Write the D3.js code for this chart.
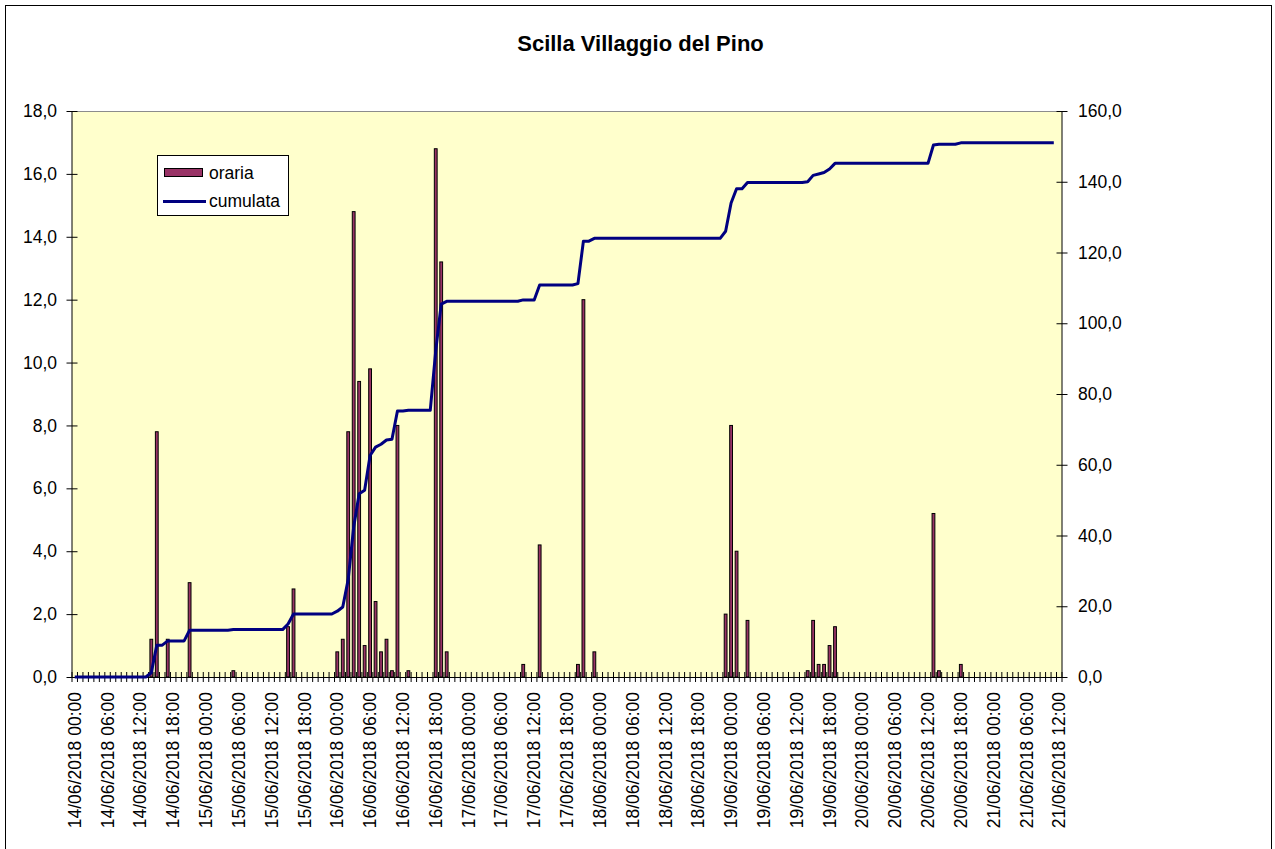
<!DOCTYPE html>
<html>
<head>
<meta charset="utf-8">
<script src="https://cdn.jsdelivr.net/npm/d3@7"></script>
<style>
  body { margin: 0; background: #fff; }
  svg { display: block; font-family: "Liberation Sans", Arial, sans-serif; }
</style>
</head>
<body>
<div id="container"></div>
<script>
const width = 1275;
const height = 849;

// hourly rainfall (mm), one row per day, from 14/06/2018 00:00
const oraria = [
	0,0,0,0,0,0,0,0,0,0,0,0,0,0,1.2,7.8,0,1.2,0,0,0,3.0,0,0,            // 14/06
	0,0,0,0,0,0.2,0,0,0,0,0,0,0,0,0,1.6,2.8,0,0,0,0,0,0,0,              // 15/06
	0.8,1.2,7.8,14.8,9.4,1.0,9.8,2.4,0.8,1.2,0.2,8.0,0,0.2,0,0,0,0,16.8,13.2,0.8,0,0,0, // 16/06
	0,0,0,0,0,0,0,0,0,0,0.4,0,0,4.2,0,0,0,0,0,0,0.4,12.0,0,0.8,         // 17/06
	0,0,0,0,0,0,0,0,0,0,0,0,0,0,0,0,0,0,0,0,0,0,0,2.0,                  // 18/06
	8.0,4.0,0,1.8,0,0,0,0,0,0,0,0,0,0,0.2,1.8,0.4,0.4,1.0,1.6,0,0,0,0,  // 19/06
	0,0,0,0,0,0,0,0,0,0,0,0,0,5.2,0.2,0,0,0,0.4,0,0,0,0,0,              // 20/06
	0,0,0,0,0,0,0,0,0,0,0,0                                             // 21/06
];
// running total of the hourly values
const cumulata = d3.cumsum(oraria);

// category labels, one per hour (181 slots, the last one empty)
const days = ["14/06/2018","15/06/2018","16/06/2018","17/06/2018","18/06/2018","19/06/2018","20/06/2018","21/06/2018"];
const categories = d3.range(181).map(i => days[Math.floor(i / 24)] + " " + String(i % 24).padStart(2, "0") + ":00");

const leftTicks = [0, 2, 4, 6, 8, 10, 12, 14, 16, 18];
const rightTicks = [0, 20, 40, 60, 80, 100, 120, 140, 160];

const plot = { left: 72, right: 1062, top: 111, bottom: 677 };

const x = d3.scaleBand().domain(d3.range(categories.length)).range([plot.left, plot.right]);
const xc = i => x(i) + x.bandwidth() / 2;
const yL = d3.scaleLinear().domain([0, 18]).range([plot.bottom, plot.top]);
const yR = d3.scaleLinear().domain([0, 160]).range([plot.bottom, plot.top]);
const fmt = d => d.toFixed(1).replace(".", ",");
const fs = 17.5;

const svg = d3.select("#container").append("svg")
	.attr("width", width)
	.attr("height", height);

// chart frame (bottom edge falls outside the picture)
svg.append("rect")
	.attr("x", 5.5).attr("y", 5.5)
	.attr("width", 1266).attr("height", 870)
	.attr("fill", "#fff").attr("stroke", "#000").attr("stroke-width", 1);

svg.append("text")
	.attr("x", 640.5).attr("y", 51)
	.attr("text-anchor", "middle")
	.attr("font-size", 22).attr("font-weight", "bold")
	.text("Scilla Villaggio del Pino");

// plot area
svg.append("rect")
	.attr("x", plot.left).attr("y", plot.top)
	.attr("width", plot.right - plot.left).attr("height", plot.bottom - plot.top)
	.attr("fill", "#FFFFCC");
svg.append("line")
	.attr("x1", plot.left).attr("x2", plot.right)
	.attr("y1", plot.top + 0.5).attr("y2", plot.top + 0.5)
	.attr("stroke", "#8c8c8c");

// bars
const bw = 2.8;
svg.append("g").selectAll("rect")
	.data(oraria.map((v, i) => ({ i, v })).filter(d => d.v > 0))
	.enter().append("rect")
	.attr("x", d => xc(d.i) - bw / 2)
	.attr("y", d => yL(d.v))
	.attr("width", bw)
	.attr("height", d => yL(0) - yL(d.v))
	.attr("fill", "#993366")
	.attr("stroke", "#000")
	.attr("stroke-width", 1);

// left axis
svg.append("g")
	.attr("transform", "translate(" + plot.left + ",0)")
	.call(d3.axisLeft(yL).tickValues(leftTicks).tickFormat(fmt).tickSize(5.5).tickPadding(9.5))
	.call(g => g.selectAll(".tick line").attr("x1", 5.5))
	.call(g => g.selectAll("text").attr("font-size", fs).attr("fill", "#000"))
	.call(g => g.select(".domain").attr("d", "M0," + plot.bottom + "V" + plot.top));

// right axis
svg.append("g")
	.attr("transform", "translate(" + plot.right + ",0)")
	.call(d3.axisRight(yR).tickValues(rightTicks).tickFormat(fmt).tickSize(5.5).tickPadding(10.5))
	.call(g => g.selectAll(".tick line").attr("x1", -5.5))
	.call(g => g.selectAll("text").attr("font-size", fs).attr("fill", "#000"))
	.call(g => g.select(".domain").attr("d", "M0," + plot.bottom + "V" + plot.top));

// bottom axis: hourly cross ticks, labels every 6 hours
const xAxis = svg.append("g")
	.attr("transform", "translate(0," + plot.bottom + ")");
xAxis.selectAll("line.minor")
	.data(d3.range(categories.length + 1))
	.enter().append("line")
	.attr("class", "minor")
	.attr("x1", i => plot.left + i * x.bandwidth())
	.attr("x2", i => plot.left + i * x.bandwidth())
	.attr("y1", -5).attr("y2", 5)
	.attr("stroke", "#000");
xAxis.call(d3.axisBottom(x)
		.tickValues(d3.range(0, categories.length, 6))
		.tickFormat(i => categories[i])
		.tickSize(0))
	.call(g => g.select(".domain").attr("d", "M" + plot.left + ",0.5H" + plot.right))
	.call(g => g.selectAll("text")
		.attr("font-size", fs).attr("fill", "#000")
		.attr("transform", "rotate(-90)")
		.attr("text-anchor", "end")
		.attr("x", -15).attr("y", 0).attr("dy", "0.35em"));

// cumulative line
const line = d3.line()
	.x((d, i) => xc(i))
	.y(d => yR(d));
svg.append("path")
	.datum(Array.from(cumulata))
	.attr("d", line)
	.attr("fill", "none")
	.attr("stroke", "#000080")
	.attr("stroke-width", 3)
	.attr("stroke-linejoin", "round");

// legend
const legend = svg.append("g");
legend.append("rect")
	.attr("x", 157.5).attr("y", 155.5).attr("width", 131).attr("height", 60)
	.attr("fill", "#fff").attr("stroke", "#000");
legend.append("rect")
	.attr("x", 164.5).attr("y", 168.5).attr("width", 38).attr("height", 8)
	.attr("fill", "#993366").attr("stroke", "#000");
legend.append("text")
	.attr("x", 209).attr("y", 172.5).attr("dy", "0.35em")
	.attr("font-size", fs).text("oraria");
legend.append("line")
	.attr("x1", 163).attr("x2", 206).attr("y1", 201.5).attr("y2", 201.5)
	.attr("stroke", "#000080").attr("stroke-width", 3);
legend.append("text")
	.attr("x", 209).attr("y", 200.5).attr("dy", "0.35em")
	.attr("font-size", fs).text("cumulata");
</script>
</body>
</html>
